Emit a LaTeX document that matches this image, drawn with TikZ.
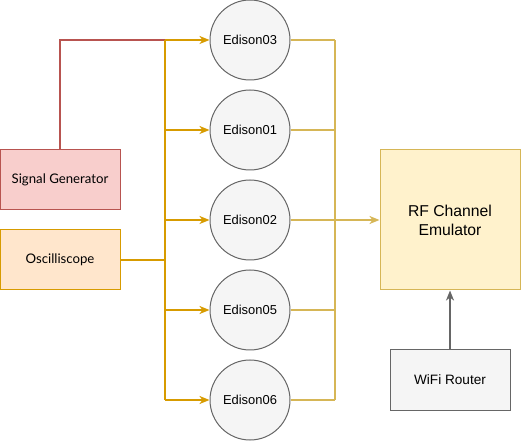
\documentclass[tikz,border=0pt]{standalone}
\usepackage{fontspec}
\setmainfont{Liberation Sans}
\newfontfamily\gillfont{Lato}
\usetikzlibrary{arrows.meta,positioning}

\definecolor{sigfill}{RGB}{248,206,204}
\definecolor{sigdraw}{RGB}{184,84,80}
\definecolor{oscfill}{RGB}{255,230,204}
\definecolor{oscdraw}{RGB}{215,155,0}
\definecolor{rffill}{RGB}{255,242,204}
\definecolor{rfdraw}{RGB}{214,182,86}
\definecolor{greyfill}{RGB}{245,245,245}
\definecolor{greydraw}{RGB}{102,102,102}

\tikzset{
  instbox/.style={rectangle,draw,line width=0.75pt,minimum width=90pt,minimum height=45pt,inner sep=0pt,font=\gillfont\fontsize{9.9}{12}\selectfont},
  sigbox/.style={instbox,draw=sigdraw,fill=sigfill},
  oscbox/.style={instbox,draw=oscdraw,fill=oscfill},
  edison/.style={circle,draw=greydraw,fill=greyfill,line width=0.75pt,minimum size=60pt,inner sep=0pt,font=\fontsize{9.7}{11}\selectfont},
  rfbox/.style={rectangle,draw=rfdraw,fill=rffill,line width=0.75pt,minimum width=105pt,minimum height=105pt,align=center,font=\fontsize{11.8}{14.2}\selectfont},
  routerbox/.style={rectangle,draw=greydraw,fill=greyfill,line width=0.75pt,minimum width=90pt,minimum height=45pt,font=\fontsize{10.2}{12}\selectfont},
  tip/.style={-{Stealth[length=7.5pt,width=6pt,inset=2.2pt]}},
  sigline/.style={draw=sigdraw,line width=1.5pt},
  oscline/.style={draw=oscdraw,line width=1.5pt},
  rfline/.style={draw=rfdraw,line width=1.5pt},
}

\begin{document}
\begin{tikzpicture}[x=0.75pt,y=0.75pt,yscale=-1,xscale=1]
\useasboundingbox (0,0) rectangle (521,441);

% Instruments
\node[sigbox] (siggen) at (60,180) {Signal Generator};
\node[oscbox] (osc) at (60,260) {Oscilliscope};

% Edison boards
\node[edison] (e03) at (250,40) {Edison03};
\node[edison] (e01) at (250,130) {Edison01};
\node[edison] (e02) at (250,220) {Edison02};
\node[edison] (e05) at (250,310) {Edison05};
\node[edison] (e06) at (250,400) {Edison06};

% Emulator and router
\node[rfbox] (rf) at (450,220) {RF Channel\\Emulator};
\node[routerbox] (router) at (450,380) {WiFi Router};

% Bus points
\coordinate (lbus) at (165,260);
\coordinate (rbus) at (335,220);

% Left side
\draw[sigline] (siggen.north) |- (lbus |- e03);
\draw[oscline] (osc.east) -- (lbus);
\draw[oscline] (lbus |- e03) -- (lbus |- e06);
\foreach \e in {e03,e01,e02,e05,e06}
  \draw[oscline,tip] (lbus |- \e) -- (\e.west);

% Right side
\foreach \e in {e03,e01,e02,e05,e06}
  \draw[rfline] (\e.east) -- (rbus |- \e);
\draw[rfline] (rbus |- e03) -- (rbus |- e06);
\draw[rfline,tip] (rbus) -- (rf.west);

\draw[draw=greydraw,line width=1.5pt,tip] (router.north) -- (rf.south);

\end{tikzpicture}
\end{document}
